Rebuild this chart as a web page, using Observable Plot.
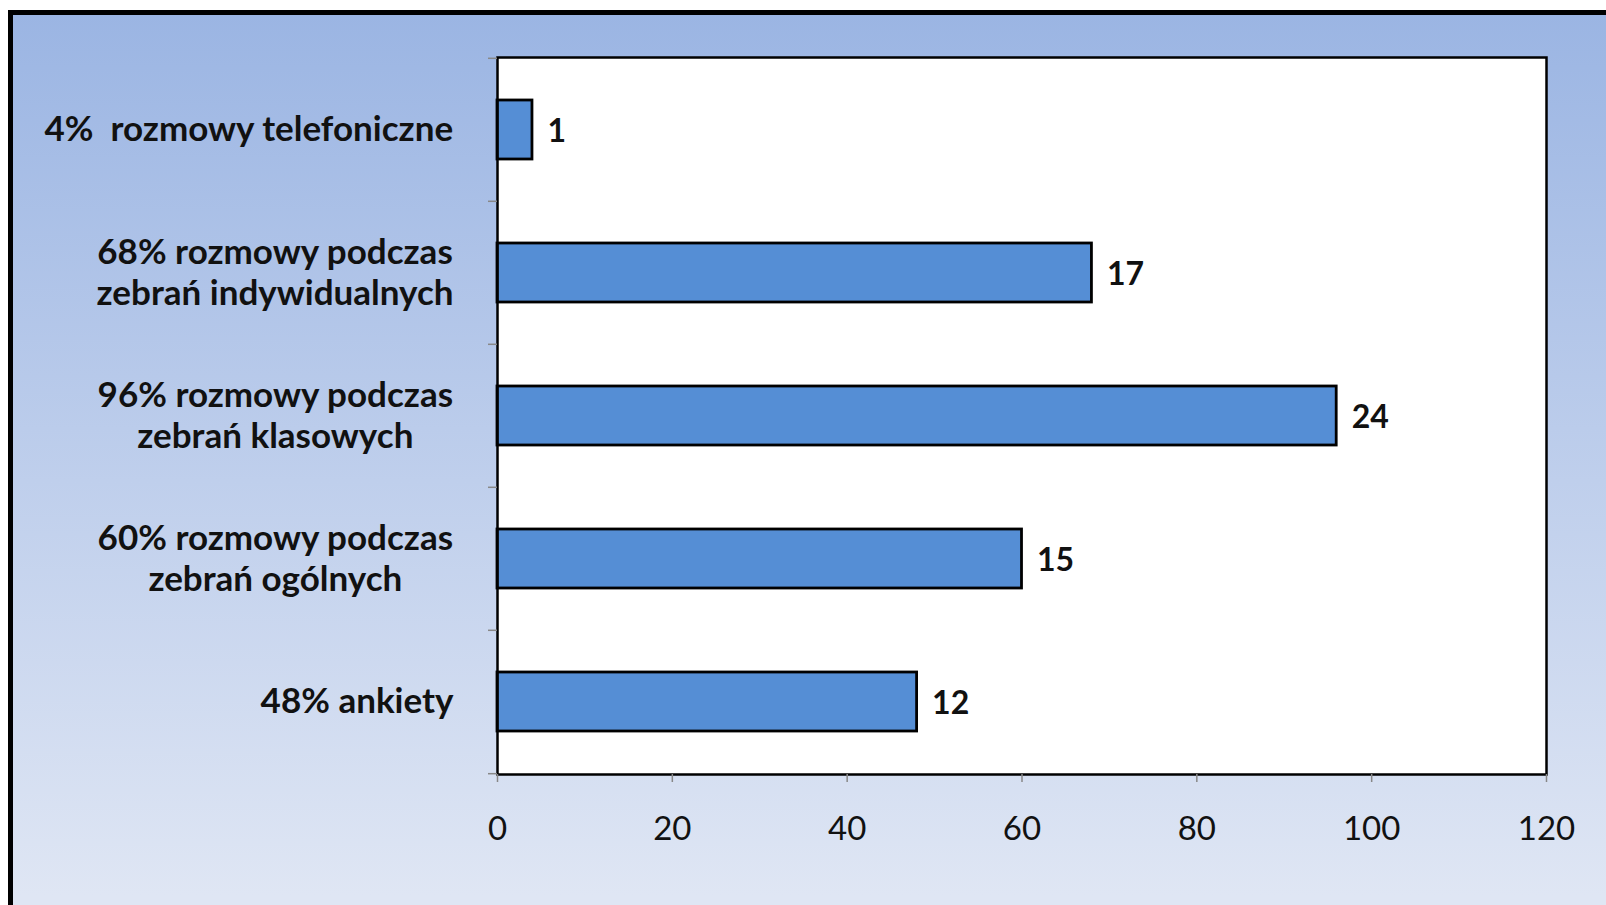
<!DOCTYPE html>
<html>
<head>
<meta charset="utf-8">
<script src="https://cdn.jsdelivr.net/npm/d3@7"></script>
<script src="https://cdn.jsdelivr.net/npm/@observablehq/plot@0.6"></script>
<style>
  html, body { margin: 0; padding: 0; width: 1606px; height: 905px; overflow: hidden; background: #fff; }
  #frame { position: absolute; left: 8px; top: 10px; width: 1700px; height: 1000px; border: 5px solid #000;
    background: linear-gradient(to bottom, #9bb5e3 0px, #dfe6f4 880px); }
  #chart { position: absolute; left: 0; top: 0; }
  svg text { white-space: pre; }
</style>
</head>
<body>
<div id="frame"></div>
<div id="chart"></div>
<script>
// ---- data ----
const categories = [
  "4%  rozmowy telefoniczne",
  "68% rozmowy podczas\nzebrań indywidualnych",
  "96% rozmowy podczas\nzebrań klasowych",
  "60% rozmowy podczas\nzebrań ogólnych",
  "48% ankiety"
];
const percents = [4, 68, 96, 60, 48];
const counts = [1, 17, 24, 15, 12];
const xTicks = [0, 20, 40, 60, 80, 100, 120];

// ---- layout ----
const W = 1606, H = 905;
const mL = 497, mR = 60, mT = 57, mB = 131;
const step = (H - mT - mB) / categories.length;
const FONT = "Lato, 'Open Sans', sans-serif";
const catSize = 35, valSize = 32, tickSize = 33;
const labelGap = 44;

const rows = categories.map((c, i) => ({cat: c, pct: percents[i], n: counts[i]}));

// measure label widths to center multi-line blocks like the original
const ctx = document.createElement("canvas").getContext("2d");
ctx.font = `bold ${catSize}px ${FONT}`;
const maxW = c => Math.max(...c.split("\n").map(s => ctx.measureText(s).width));

const labelMarks = rows.map(r => Plot.text([r], {
  y: "cat", frameAnchor: "left", text: "cat", textAnchor: "middle", lineAnchor: "middle",
  dx: -(labelGap + maxW(r.cat) / 2), dy: -2, fontSize: catSize, fontWeight: "bold", fill: "#111", lineHeight: 1.17
}));

const chart = Plot.plot({
  width: W, height: H,
  marginLeft: mL, marginRight: mR, marginTop: mT, marginBottom: mB,
  style: {fontFamily: FONT, background: "transparent", overflow: "visible"},
  x: {domain: [0, 120], axis: null, label: null},
  y: {domain: categories, paddingInner: 0.59, paddingOuter: 0.295, axis: null, label: null},
  marks: [
    Plot.frame({fill: "white", stroke: null}),
    Plot.barX(rows, {x: "pct", y: "cat", fill: "#558ed5", stroke: "#000", strokeWidth: 2.8}),
    Plot.frame({stroke: "#000", strokeWidth: 2.5}),
    Plot.ruleY(rows, {y: "cat", x1: 0, x2: 0, insetLeft: -9, dy: -step / 2, stroke: "#888", strokeWidth: 1.5}),
    Plot.ruleY(rows.slice(-1), {y: "cat", x1: 0, x2: 0, insetLeft: -9, dy: step / 2, stroke: "#888", strokeWidth: 1.5}),
    Plot.axisX({ticks: xTicks, tickSize: 8, tickPadding: 34, stroke: "#888", strokeWidth: 1.5,
      fill: "#111", fontSize: tickSize, tickFormat: d => String(d), label: null}),
    Plot.text(rows, {x: "pct", y: "cat", text: d => String(d.n), dx: 15, dy: 2, textAnchor: "start",
      fontSize: valSize, fontWeight: "bold", fill: "#111"}),
    ...labelMarks
  ]
});
document.getElementById("chart").appendChild(chart);
</script>
</body>
</html>
